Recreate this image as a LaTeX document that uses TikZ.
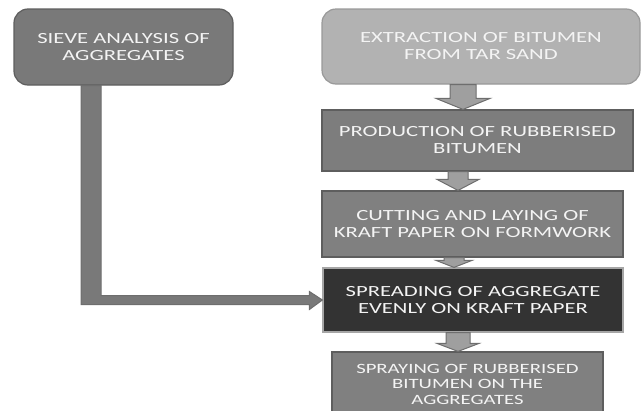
\documentclass[tikz,border=0pt]{standalone}
\usepackage{fontspec}
\setmainfont{Carlito}
\newfontfamily\boxfont[FakeStretch=1.46]{Carlito}
\usetikzlibrary{calc}
\definecolor{txt}{HTML}{F4F4F4}
\definecolor{bord}{HTML}{5E5E5E}
\tikzset{
  box/.style={draw=bord, line width=1.2pt, text=txt, align=center, font=\boxfont\fontsize{15.5}{17}\selectfont, inner sep=0pt},
  blk/.style={draw=bord!90, line width=1pt, fill=#1},
  blk/.default={gray!75}
}
\newcommand\blkarrow[6]{%
  \path[blk] let \p1=(#1.south), \p2=(#2.north) in
   ({#3pt-#4pt}, \y1) -- ({#3pt+#4pt}, \y1) -- ({#3pt+#4pt}, \y2+#6pt) -- ({#3pt+#5pt}, \y2+#6pt)
   -- (#3pt, \y2) -- ({#3pt-#5pt}, \y2+#6pt) -- ({#3pt-#4pt}, \y2+#6pt) -- cycle;}
\begin{document}
\begin{tikzpicture}[x=1pt,y=-1pt]
\useasboundingbox (0,0) rectangle (642,410);
\clip (0,0) rectangle (642,410);
\node[box, fill={gray!95!black}, rounded corners=14pt, minimum width=219pt, minimum height=76pt] (sieve) at (123.5,47) {SIEVE ANALYSIS OF\\AGGREGATES};
\node[box, fill={gray!60}, draw={gray!120!black}, rounded corners=14pt, minimum width=318pt, minimum height=75pt] (extr) at (481,46.5) {EXTRACTION OF BITUMEN\\FROM TAR SAND};
\node[box, fill={gray!98!black}, minimum width=311pt, minimum height=61pt] (prod) at (477.5,140.5) {PRODUCTION OF RUBBERISED\\BITUMEN};
\node[box, fill={gray}, minimum width=301pt, minimum height=66pt] (cut) at (472.5,224) {CUTTING AND LAYING OF\\KRAFT PAPER ON FORMWORK};
\node[box, fill={black!80}, draw={gray!70}, minimum width=300pt, minimum height=64pt] (spread) at (473,300) {SPREADING OF AGGREGATE\\EVENLY ON KRAFT PAPER};
\node[box, fill={gray}, minimum width=271pt, minimum height=64pt, font=\boxfont\fontsize{14.2}{15.5}\selectfont] (spray) at (467.5,384) {SPRAYING OF RUBBERISED\\BITUMEN ON THE\\AGGREGATES};
\blkarrow{extr}{prod}{463}{13}{27}{11}
\blkarrow{prod}{cut}{458}{10}{21}{11}
\blkarrow{cut}{spread}{454}{10}{18}{7}
\blkarrow{spread}{spray}{458}{12}{21}{8}
\path[blk={gray!95!black}] let \p1=(sieve.south), \p2=(spread.west) in
  (81pt,\y1) -- (101pt,\y1) -- (101pt,\y2+4.5pt) -- (\x2-13pt,\y2+4.5pt) -- (\x2-13pt,\y2+8.5pt)
  -- (\x2,\y2) -- (\x2-13pt,\y2-9.5pt) -- (\x2-13pt,\y2-4.5pt) -- (81pt,\y2-4.5pt) -- cycle;
\end{tikzpicture}
\end{document}
